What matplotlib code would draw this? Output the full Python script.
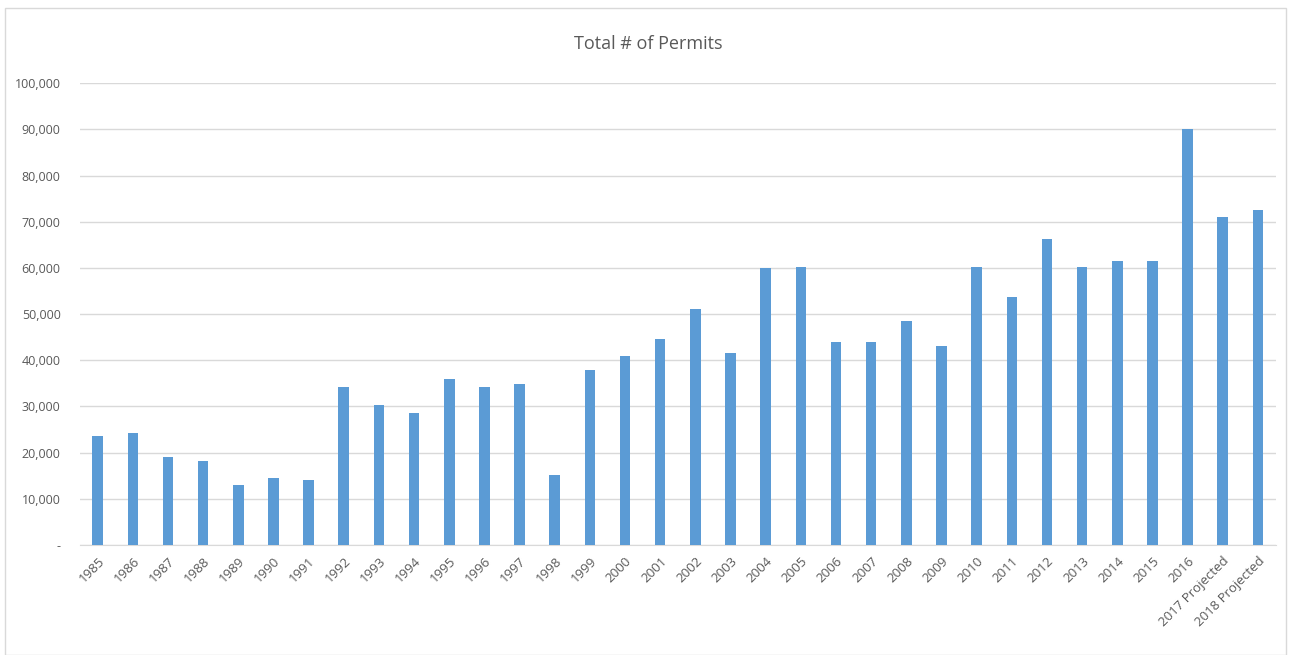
import matplotlib.pyplot as plt
from matplotlib.patches import Rectangle

# ---------------- DATA ----------------
years = ["1985", "1986", "1987", "1988", "1989", "1990", "1991", "1992", "1993",
         "1994", "1995", "1996", "1997", "1998", "1999", "2000", "2001", "2002",
         "2003", "2004", "2005", "2006", "2007", "2008", "2009", "2010", "2011",
         "2012", "2013", "2014", "2015", "2016", "2017 Projected", "2018 Projected"]
permits = [23500, 24300, 19100, 18200, 13000, 14600, 14100, 34100, 30400,
           28500, 36000, 34300, 34900, 15200, 37900, 41000, 44500, 51000,
           41500, 59900, 60300, 44000, 44000, 48500, 43000, 60100, 53700,
           66200, 60300, 61500, 61500, 90100, 71000, 72600]
yticks = [0, 10000, 20000, 30000, 40000, 50000, 60000, 70000, 80000, 90000, 100000]
ytick_labels = ["-", "10,000", "20,000", "30,000", "40,000", "50,000", "60,000",
                "70,000", "80,000", "90,000", "100,000"]

plt.rcParams['font.family'] = ['Open Sans', 'DejaVu Sans']

fig = plt.figure(figsize=(12.91, 6.55), dpi=100)
ax = fig.add_axes([0.062, 0.168, 0.926, 0.705])

x = range(len(years))
ax.bar(x, permits, width=0.3, color="#5b9bd5", zorder=3)

ax.set_xlim(-0.5, len(years) - 0.5)
ax.set_ylim(0, 100000)
ax.set_yticks(yticks)
ax.set_yticklabels(ytick_labels, fontsize=9, color="#595959")
ax.set_xticks(list(x))
ax.set_xticklabels(years, rotation=45, ha="right", rotation_mode="anchor",
                   fontsize=9.5, color="#595959")
ax.tick_params(axis="y", length=0, pad=14)
ax.tick_params(axis="x", length=0, pad=7)

ax.grid(axis="y", color="#d9d9d9", linewidth=1, zorder=0)
for side in ["top", "right", "left"]:
    ax.spines[side].set_visible(False)
ax.spines["bottom"].set_color("#d9d9d9")

fig.text(0.502, 0.933, "Total # of Permits", ha="center", va="center",
         fontsize=13, color="#595959")

# chart-area frame
fig.patches.append(Rectangle((0.004, 0.0), 0.992, 0.988, transform=fig.transFigure,
                             fill=False, edgecolor="#d9d9d9", linewidth=1))

fig.savefig("out.png", dpi=100)
